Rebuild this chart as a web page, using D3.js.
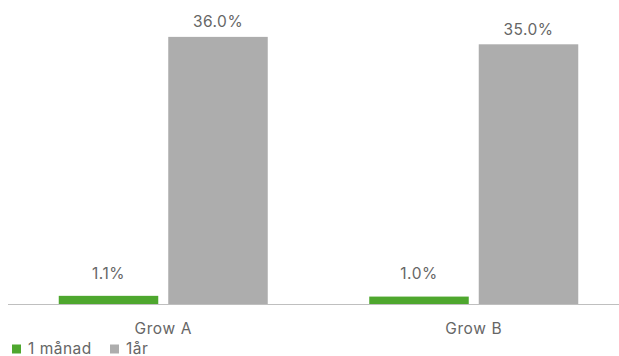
<!DOCTYPE html>
<html lang="sv">
<head>
    <meta charset="UTF-8">
    <title>Grow A / Grow B</title>
    <script src="https://d3js.org/d3.v7.min.js"></script>
    <style>
        body { margin: 0; background: #fff; }
        text { font-family: Inter, "Liberation Sans", Arial, sans-serif; fill: #666666; }
    </style>
</head>
<body>
    <div id="chart"></div>
    <script>
        // data
        const categories = ["Grow A", "Grow B"];
        const seriesNames = ["1 månad", "1år"];
        const monthValues = [1.1, 1.0];
        const yearValues = [36.0, 35.0];
        const seriesColors = ["#4ea72e", "#adadad"];

        const width = 619, height = 356;
        const baseY = 304;

        const svg = d3.select("#chart").append("svg")
            .attr("width", width)
            .attr("height", height);

        // plot area runs a little past the right edge (picture is cropped)
        const x0 = d3.scaleBand()
            .domain(categories)
            .range([8, 629]);

        // inner band: bars ~100px with a 10px gap, centred in the group
        const x1 = d3.scaleBand()
            .domain(seriesNames)
            .range([50.75, 259.75])
            .paddingInner(0.0913);

        const y = d3.scaleLinear()
            .domain([0, 40])
            .range([baseY, baseY - 296.8]);

        const rows = categories.map((c, i) => ({
            category: c,
            values: [monthValues[i], yearValues[i]]
        }));

        const groups = svg.selectAll("g.group")
            .data(rows)
            .join("g")
            .attr("class", "group")
            .attr("transform", d => `translate(${x0(d.category)},0)`);

        groups.selectAll("rect")
            .data(d => d.values.map((v, i) => ({ key: seriesNames[i], value: v, i })))
            .join("rect")
            .attr("x", d => x1(d.key))
            .attr("width", x1.bandwidth())
            .attr("y", d => y(d.value))
            .attr("height", d => y(0) - y(d.value))
            .attr("fill", d => seriesColors[d.i]);

        // value labels (short bars get their label lifted a bit more)
        groups.selectAll("text.val")
            .data(d => d.values.map((v, i) => ({ key: seriesNames[i], value: v })))
            .join("text")
            .attr("class", "val")
            .attr("x", d => x1(d.key) + x1.bandwidth() / 2)
            .attr("y", d => Math.min(y(d.value) - 9.5, y(0) - 25))
            .attr("text-anchor", "middle")
            .attr("font-size", "15.5px")
            .style("letter-spacing", "0.5px")
            .text(d => d.value.toFixed(1) + "%");

        // baseline
        svg.append("line")
            .attr("x1", 8).attr("x2", 619)
            .attr("y1", baseY + 0.5).attr("y2", baseY + 0.5)
            .attr("stroke", "#bfbfbf")
            .attr("stroke-width", 1);

        // category axis labels
        svg.append("g")
            .selectAll("text")
            .data(categories)
            .join("text")
            .attr("x", d => x0(d) + x0.bandwidth() / 2)
            .attr("y", 333.5)
            .attr("text-anchor", "middle")
            .attr("font-size", "15.5px")
            .style("letter-spacing", "0.6px")
            .text(d => d);

        // legend
        const legend = svg.append("g");
        const legendX = [12, 110];
        seriesNames.forEach((name, i) => {
            legend.append("rect")
                .attr("x", legendX[i]).attr("y", 344.5)
                .attr("width", 9).attr("height", 9)
                .attr("fill", seriesColors[i]);
            legend.append("text")
                .attr("x", legendX[i] + 16)
                .attr("y", 353.5)
                .attr("font-size", "15.5px")
                .style("letter-spacing", "0.5px")
                .text(name);
        });
    </script>
</body>
</html>
